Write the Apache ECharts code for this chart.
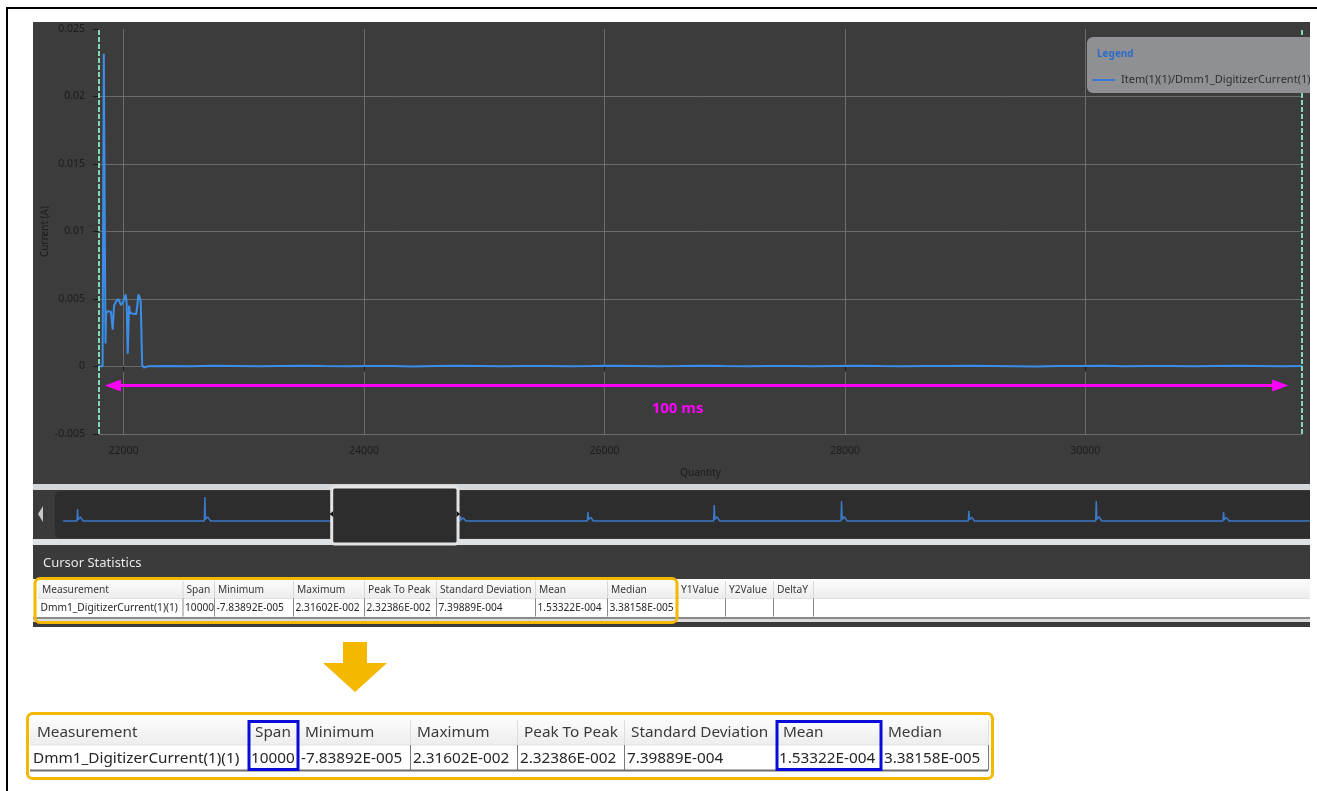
<!DOCTYPE html>
<html>
<head>
<meta charset="utf-8">
<script src="https://cdn.jsdelivr.net/npm/echarts@6/dist/echarts.min.js"></script>
<style>
  html, body { margin: 0; padding: 0; background: #ffffff; }
  #chart { width: 1317px; height: 791px; }
</style>
</head>
<body>
<div id="chart"></div>
<script>
// ---- Digitizer trace between the two cursors (Quantity = sample index, Current in A) ----
const traceQuantity = [
  21796, 21812, 21826, 21831, 21836, 21845, 21850, 21855, 21864, 21896, 21910, 21921,
  21937, 21957, 21971, 21979, 21998, 22018, 22026, 22035, 22046, 22054, 22104, 22115,
  22123, 22135, 22143, 22155, 22170, 22200, 22380, 22560, 22750, 22930, 23120, 23300,
  23490, 23670, 23860, 24040, 24230, 24410, 24600, 24780, 24970, 25150, 25340, 25520,
  25710, 25890, 26080, 26260, 26450, 26630, 26820, 27000, 27190, 27370, 27560, 27740,
  27930, 28110, 28300, 28480, 28670, 28850, 29040, 29220, 29410, 29590, 29780, 29960,
  30150, 30330, 30520, 30700, 30890, 31070, 31260, 31440, 31630, 31802
];
const traceCurrent = [
  0.00002, 0.00003, 0.00002, 0.00010, 0.0231602, 0.02305, 0.00170, 0.00390, 0.00410, 0.00405, 0.00272, 0.00450,
  0.00480, 0.00500, 0.00514, 0.00455, 0.00480, 0.00534, 0.00465, 0.00094, 0.00450, 0.00396, 0.00386, 0.00450,
  0.00534, 0.00510, 0.00480, 0.00010, -0.0000783892, 0.00001, 0.00004, 0.00002, 0.00005, 0.00003, 0.00001, 0.00004,
  0.00006, 0.00003, 0.00002, 0.00004, 0.00003, 0.00000, 0.00003, 0.00005, 0.00004, 0.00002, 0.00003, 0.00004,
  0.00001, 0.00003, 0.00006, 0.00004, 0.00002, 0.00003, 0.00005, 0.00003, 0.00002, 0.00004, 0.00003, 0.00001,
  0.00004, 0.00005, 0.00003, 0.00002, 0.00004, 0.00003, 0.00006, 0.00004, 0.00002, 0.00000, 0.00003, 0.00004,
  0.00005, 0.00002, 0.00003, 0.00004, 0.00001, 0.00003, 0.00005, 0.00004, 0.00002, 0.00003
];

// ---- Whole recording shown in the navigator strip ----
const overviewQuantity = [
  -100, 1020, 1067, 1110, 1300, 1420, 1520,
  11340, 11393, 11440, 11620, 11740, 11850,
  21790, 21840, 21890, 22060, 22180, 22290,
  32080, 32124, 32170, 32340, 32460, 32560,
  42400, 42449, 42500, 42670, 42790, 42890,
  52640, 52693, 52740, 52920, 53040, 53140,
  62970, 63018, 63070, 63240, 63360, 63460,
  73290, 73343, 73390, 73570, 73690, 73790,
  83620, 83668, 83720, 83890, 84010, 84110,
  93940, 93993, 94040, 94220, 94340, 94440,
  101000
];
const overviewCurrent = [
  0, 0, 0.012, 0.0012, 0.0040, 0.0038, 0,
  0, 0.024, 0.0015, 0.0042, 0.0039, 0,
  0, 0.023, 0.0014, 0.0045, 0.0040, 0,
  0, 0.005, 0.0010, 0.0030, 0.0025, 0,
  0, 0.009, 0.0012, 0.0038, 0.0034, 0,
  0, 0.016, 0.0014, 0.0042, 0.0038, 0,
  0, 0.020, 0.0015, 0.0044, 0.0040, 0,
  0, 0.010, 0.0012, 0.0038, 0.0034, 0,
  0, 0.020, 0.0015, 0.0044, 0.0040, 0,
  0, 0.009, 0.0012, 0.0036, 0.0032, 0,
  0
];

// ---- Axes, cursors and annotation ----
const xTickValues = [22000, 24000, 26000, 28000, 30000];
const cursorQuantity = [21796, 31796];
const spanArrowQuantity = [21912, 31621];
const spanArrowCurrent = -0.00141;
const spanText = '100 ms';
const seriesName = 'Item(1)(1)/Dmm1_DigitizerCurrent(1)(1)';

// ---- Cursor statistics ----
const statHeaders = ['Measurement', 'Span', 'Minimum', 'Maximum', 'Peak To Peak', 'Standard Deviation', 'Mean', 'Median'];
const statValues = ['Dmm1_DigitizerCurrent(1)(1)', '10000', '-7.83892E-005', '2.31602E-002', '2.32386E-002', '7.39889E-004', '1.53322E-004', '3.38158E-005'];
const cursorHeaders = ['Y1Value', 'Y2Value', 'DeltaY'];
const highlightedColumns = ['Span', 'Mean'];

// ---- Layout ----
const UI_FONT = '"Noto Sans", "Open Sans", sans-serif';
const smallCols = [38, 182.5, 214, 293, 364, 436, 535, 607, 677, 725, 773, 813];
const bigCols = [30, 248, 298, 410, 517, 624, 776, 881, 988];

const pairs = (xs, ys) => xs.map((x, i) => [x, ys[i]]);

function tableElements(opt) {
  const els = [];
  const { cols, x1, yTop, hHead, hRow, font, headers, values, padHead, padRow, headFill, sepHead, sepRow, z } = opt;
  const right = x1;
  els.push({ type: 'rect', z, shape: { x: cols[0], y: yTop, width: right - cols[0], height: hHead },
    style: { fill: headFill } });
  els.push({ type: 'rect', z, shape: { x: cols[0], y: yTop + hHead, width: right - cols[0], height: hRow },
    style: { fill: '#ffffff' } });
  els.push({ type: 'line', z: z + 1, shape: { x1: cols[0], y1: yTop + hHead, x2: right, y2: yTop + hHead },
    style: { stroke: '#e2e2e2', lineWidth: 1 } });
  for (let i = 1; i < cols.length; i++) {
    els.push({ type: 'line', z: z + 1, shape: { x1: cols[i] + 0.5, y1: yTop, x2: cols[i] + 0.5, y2: yTop + hHead },
      style: { stroke: sepHead, lineWidth: 1 } });
    els.push({ type: 'line', z: z + 1, shape: { x1: cols[i] + 0.5, y1: yTop + hHead, x2: cols[i] + 0.5, y2: yTop + hHead + hRow },
      style: { stroke: sepRow, lineWidth: 1 } });
  }
  headers.forEach((t, i) => {
    els.push({ type: 'text', z: z + 2, x: cols[i] + padHead, y: yTop + hHead / 2 + 0.5,
      style: { text: t, font: font, fill: '#3a3a3a', verticalAlign: 'middle', align: 'left' } });
  });
  values.forEach((t, i) => {
    els.push({ type: 'text', z: z + 2, x: cols[i] + padRow, y: yTop + hHead + hRow / 2 + 0.5,
      style: { text: t, font: font, fill: '#262626', verticalAlign: 'middle', align: 'left' } });
  });
  return els;
}

const bg = [];
// page frame
bg.push({ type: 'rect', z: -20, shape: { x: 6, y: 7, width: 1311, height: 2 }, style: { fill: '#000' } });
bg.push({ type: 'rect', z: -20, shape: { x: 6, y: 7, width: 2, height: 784 }, style: { fill: '#000' } });
// application window
bg.push({ type: 'rect', z: -20, shape: { x: 33, y: 22, width: 1277, height: 462 }, style: { fill: '#3c3c3c' } });
bg.push({ type: 'rect', z: -20, shape: { x: 33, y: 484, width: 1277, height: 6 }, style: { fill: '#d4d7da' } });
bg.push({ type: 'rect', z: -20, shape: { x: 33, y: 490, width: 1277, height: 49 }, style: { fill: '#3a3a3a' } });
bg.push({ type: 'rect', z: -19, shape: { x: 55, y: 491, width: 1260, height: 47, r: 5 }, style: { fill: '#2d2d2d' } });
bg.push({ type: 'polygon', z: -18, shape: { points: [[43, 506], [43, 522], [38, 514]] }, style: { fill: '#c9c9c9' } });
bg.push({ type: 'rect', z: -20, shape: { x: 33, y: 539, width: 1277, height: 6 }, style: { fill: '#dfe2e5' } });
bg.push({ type: 'rect', z: -20, shape: { x: 33, y: 545, width: 1277, height: 34 }, style: { fill: '#3b3b3b' } });
bg.push({ type: 'text', z: -18, x: 43, y: 563,
  style: { text: 'Cursor Statistics', font: '13px ' + UI_FONT, fill: '#e8e8e8', verticalAlign: 'middle' } });
bg.push({ type: 'rect', z: -20, shape: { x: 33, y: 579, width: 1277, height: 48 }, style: { fill: '#fafafa' } });
bg.push({ type: 'rect', z: -20, shape: { x: 33, y: 617, width: 1277, height: 2 }, style: { fill: '#8a8a8a' } });
bg.push({ type: 'rect', z: -20, shape: { x: 33, y: 619, width: 1277, height: 3 }, style: { fill: '#dcdcdc' } });
bg.push({ type: 'rect', z: -20, shape: { x: 33, y: 622, width: 1277, height: 5 }, style: { fill: '#3a3a3a' } });

// small statistics table inside the window
const small = tableElements({
  cols: smallCols, x1: 1310, yTop: 581, hHead: 17.5, hRow: 18, font: '10.2px ' + UI_FONT,
  headers: statHeaders.concat(cursorHeaders), values: statValues.concat(['', '', '']), padHead: 4, padRow: 2.5,
  headFill: new echarts.graphic.LinearGradient(0, 0, 0, 1, [{ offset: 0, color: '#fbfbfb' }, { offset: 1, color: '#ececec' }]),
  sepHead: '#d6d6d6', sepRow: '#8c8c8c', z: -15
});
bg.push(...small);

// enlarged copy of the statistics table
const big = tableElements({
  cols: bigCols, x1: 988, yTop: 720, hHead: 25, hRow: 25.5, font: '15.3px ' + UI_FONT,
  headers: statHeaders, values: statValues, padHead: 7, padRow: 3,
  headFill: new echarts.graphic.LinearGradient(0, 0, 0, 1, [{ offset: 0, color: '#fbfbfb' }, { offset: 1, color: '#ededed' }]),
  sepHead: '#dcdcdc', sepRow: '#7a7a7a', z: -15
});
bg.push(...big);
bg.push({ type: 'rect', z: -12, shape: { x: 30, y: 769.5, width: 958, height: 2 }, style: { fill: '#6e6e6e' } });

// highlight frames
const over = [];
over.push({ type: 'rect', z: 50, shape: { x: 35, y: 578.5, width: 642, height: 44, r: 5 },
  style: { fill: null, stroke: '#f5b800', lineWidth: 3 } });
over.push({ type: 'rect', z: 50, shape: { x: 27.5, y: 713.5, width: 965, height: 65, r: 5 },
  style: { fill: null, stroke: '#f5b800', lineWidth: 3 } });
highlightedColumns.forEach(name => {
  const i = statHeaders.indexOf(name);
  over.push({ type: 'rect', z: 51, shape: { x: bigCols[i] + 1, y: 721.5, width: bigCols[i + 1] - bigCols[i] - 1, height: 48 },
    style: { fill: null, stroke: '#0b0bd6', lineWidth: 3 } });
});
// down arrow between the two tables
over.push({ type: 'polygon', z: 50,
  shape: { points: [[343, 642], [367, 642], [367, 663], [387, 663], [355, 692], [323, 663], [343, 663]] },
  style: { fill: '#f5b800' } });

// legend panel
over.push({ type: 'rect', z: 40, shape: { x: 1087, y: 37, width: 240, height: 56, r: 6 }, style: { fill: '#8e9093' } });
over.push({ type: 'text', z: 41, x: 1097, y: 54,
  style: { text: 'Legend', font: 'bold 10px ' + UI_FONT, fill: '#2f6cc8', verticalAlign: 'middle' } });
over.push({ type: 'line', z: 41, shape: { x1: 1092, y1: 80, x2: 1115, y2: 80 }, style: { stroke: '#3a7ad6', lineWidth: 2 } });
over.push({ type: 'text', z: 41, x: 1121, y: 80,
  style: { text: seriesName, font: '11px ' + UI_FONT, fill: '#2e2e2e', verticalAlign: 'middle' } });
// right edge of the captured window
over.push({ type: 'rect', z: 90, shape: { x: 1310, y: 9, width: 7, height: 782 }, style: { fill: '#ffffff' } });

const chart = echarts.init(document.getElementById('chart'));

const cursorLine = v => ({
  xAxis: v, symbol: 'none',
  lineStyle: { color: '#82d9b5', type: [5, 2], width: 2 }, label: { show: false }
});

chart.setOption({
  animation: false,
  backgroundColor: '#ffffff',
  textStyle: { fontFamily: UI_FONT },
  grid: [
    { left: 99, top: 29, width: 1203, height: 405 },
    { left: 57, top: 490, right: 7, height: 51 }
  ],
  xAxis: [
    {
      type: 'value', gridIndex: 0, min: 21796, max: 31802,
      name: 'Quantity', nameLocation: 'middle', nameGap: 34, nameMoveOverlap: false,
      nameTextStyle: { color: '#1c1c1c', fontSize: 10 },
      axisLine: { show: false },
      axisTick: { show: true, length: 5, customValues: xTickValues, lineStyle: { color: '#1c1c1c' } },
      axisLabel: { customValues: xTickValues, color: '#1c1c1c', fontSize: 10.5, margin: 12,
        formatter: v => String(v) },
      splitLine: { show: true, lineStyle: { color: '#6c6c6c', width: 1 } }
    },
    {
      type: 'value', gridIndex: 1, min: -600, max: 101000, show: false
    }
  ],
  yAxis: [
    {
      type: 'value', gridIndex: 0, min: -0.005, max: 0.025, interval: 0.005,
      name: 'Current (A)', nameLocation: 'middle', nameGap: 49, nameMoveOverlap: false,
      nameTextStyle: { color: '#1c1c1c', fontSize: 10 },
      axisLine: { show: false },
      axisTick: { show: true, length: 6, lineStyle: { color: '#1c1c1c' } },
      axisLabel: { color: '#1c1c1c', fontSize: 10.5, margin: 14 },
      splitLine: { show: true, showMaxLine: false, lineStyle: { color: '#6c6c6c', width: 1 } }
    },
    {
      type: 'value', gridIndex: 1, min: -0.020, max: 0.031, show: false
    }
  ],
  series: [
    {
      name: seriesName, type: 'line', xAxisIndex: 0, yAxisIndex: 0,
      data: pairs(traceQuantity, traceCurrent),
      showSymbol: false, silent: true,
      lineStyle: { color: '#3a8eea', width: 2 },
      markLine: {
        silent: true, animation: false,
        symbol: ['none', 'none'],
        data: [
          cursorLine(cursorQuantity[0]),
          cursorLine(cursorQuantity[1]),
          [
            { coord: [spanArrowQuantity[0], spanArrowCurrent], symbol: 'triangle', symbolSize: [12, 16] },
            { coord: [spanArrowQuantity[1], spanArrowCurrent], symbol: 'triangle', symbolSize: [12, 16],
              lineStyle: { color: '#ff00ff', width: 3, type: 'solid' },
              label: { show: true, formatter: spanText, position: 'insideMiddleBottom', distance: 16,
                offset: [-19, 0], color: '#ff00ff', fontWeight: 'bold', fontSize: 15, fontFamily: UI_FONT } }
          ]
        ],
        lineStyle: { color: '#ff00ff', width: 3, type: 'solid' },
        itemStyle: { color: '#ff00ff' }
      }
    },
    {
      name: 'overview', type: 'line', xAxisIndex: 1, yAxisIndex: 1,
      data: pairs(overviewQuantity, overviewCurrent),
      showSymbol: false, silent: true,
      lineStyle: { color: '#3a78c8', width: 1.5 }
    }
  ],
  graphic: { elements: bg.concat(over) }
});

// navigator window showing the range between the cursors
function drawNavigator() {
  const p0 = chart.convertToPixel({ xAxisIndex: 1 }, cursorQuantity[0]);
  const p1 = chart.convertToPixel({ xAxisIndex: 1 }, cursorQuantity[1]);
  const y0 = 487, y1 = 544, ym = 514;
  chart.setOption({
    graphic: { elements: bg.concat(over).concat([
      { type: 'rect', z: 60, shape: { x: p0 - 1.5, y: y0, width: p1 - p0 + 3, height: y1 - y0, r: 3 },
        style: { fill: '#2d2d2d', stroke: '#e4e4e4', lineWidth: 3 } },
      { type: 'polygon', z: 61, shape: { points: [[p0, ym - 3], [p0, ym + 3], [p0 - 3.5, ym]] }, style: { fill: '#111' } },
      { type: 'polygon', z: 61, shape: { points: [[p1, ym - 3], [p1, ym + 3], [p1 + 3.5, ym]] }, style: { fill: '#111' } }
    ]) }
  }, { replaceMerge: ['graphic'] });
}
drawNavigator();
</script>
</body>
</html>
